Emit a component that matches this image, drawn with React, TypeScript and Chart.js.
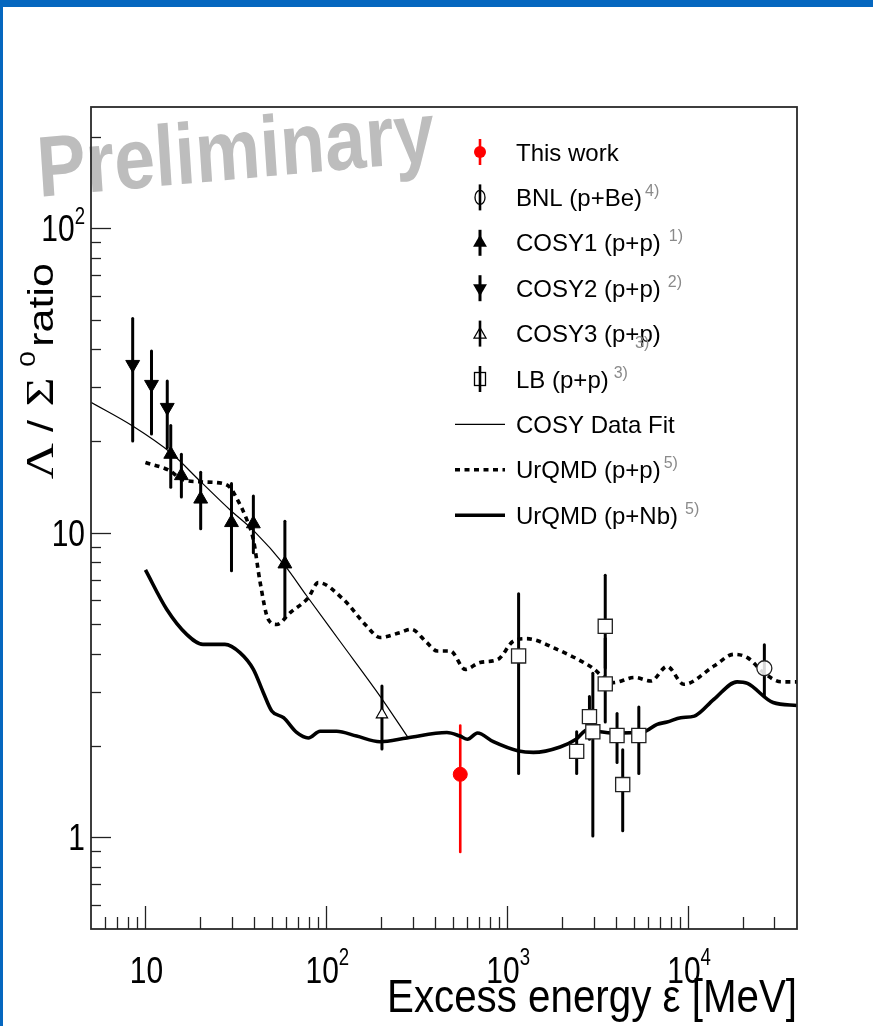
import React, { useEffect, useRef } from 'react';
import { Chart, registerables } from 'chart.js';

Chart.register(...registerables);

const WIDTH = 873;
const HEIGHT = 1026;

const SANS = "'Liberation Sans', Arial, Helvetica, sans-serif";
const SERIF = "'Liberation Serif', 'Times New Roman', serif";

// Axis ranges (log-log)
const X_MIN = 5;
const X_MAX = 40000;
const Y_MIN = 0.5;
const Y_MAX = 250;

// Tick labels
const xTickValues = [10, 100, 1000, 10000];
const xTickLabels: [string, string][] = [['10', ''], ['10', '2'], ['10', '3'], ['10', '4']];
const yTickValues = [1, 10, 100];
const yTickLabels: [string, string][] = [['1', ''], ['10', ''], ['10', '2']];

// This work
const thisWorkE = [550];
const thisWorkR = [1.61];
const thisWorkLo = [0.895];
const thisWorkHi = [2.33];

// BNL (p+Be)
const bnlE = [26400];
const bnlR = [3.59];
const bnlLo = [2.93];
const bnlHi = [4.29];

// COSY1 (p+p)
const cosy1E = [13.8, 15.8, 20.2, 29.9, 39.5, 59.0];
const cosy1R = [18.1, 15.4, 12.9, 10.8, 10.7, 7.9];
const cosy1Lo = [14.1, 13.1, 10.3, 7.5, 8.6, 5.3];
const cosy1Hi = [22.5, 18.1, 15.8, 14.5, 13.2, 10.9];

// COSY2 (p+p)
const cosy2E = [8.5, 10.8, 13.2];
const cosy2R = [35.7, 30.7, 25.8];
const cosy2Lo = [20.0, 21.1, 19.0];
const cosy2Hi = [50.5, 39.5, 31.5];

// COSY3 (p+p)
const cosy3E = [203];
const cosy3R = [2.53];
const cosy3Lo = [1.95];
const cosy3Hi = [3.14];

// LB (p+p)
const lbE = [1156, 2421, 2849, 2974, 3483, 3483, 4047, 4350, 5340];
const lbR = [3.94, 1.915, 2.49, 2.22, 4.93, 3.19, 2.16, 1.49, 2.16];
const lbLo = [1.62, 1.62, 2.1, 1.01, 3.6, 2.39, 1.76, 1.05, 1.62];
const lbHi = [6.31, 2.22, 2.9, 3.46, 7.25, 4.5, 2.55, 1.94, 2.68];

// COSY data fit
const fitE = [5, 8.5, 13.8, 20, 29.3, 40, 59, 78, 120, 198, 284];
const fitR = [26.8, 22.4, 18.3, 14.8, 11.9, 10.1, 7.8, 6.2, 4.37, 2.91, 2.12];

// UrQMD (p+p)
const urqmdPpE = [10, 13.6, 15.8, 20.2, 26.9, 29.3, 31.9, 36.2, 39.5, 43, 47.7, 53.1, 63.2, 79.5, 90.3,
  124, 167, 198, 255, 295, 359, 410, 485, 586, 707, 889, 1083, 1284, 1887, 2885, 3867, 5053, 6226,
  7658, 9470, 13900, 17940, 21300, 26200, 32700, 40000];
const urqmdPpR = [17.0, 16.0, 15.0, 14.7, 14.5, 14.1, 13.0, 11.1, 9.5, 6.9, 5.2, 5.0, 5.47, 6.12, 6.86,
  6.05, 4.94, 4.53, 4.7, 4.82, 4.36, 4.09, 4.09, 3.56, 3.75, 3.84, 4.41, 4.49, 4.14, 3.64, 3.22, 3.35, 3.26,
  3.64, 3.18, 3.65, 3.99, 3.89, 3.47, 3.24, 3.24];

// UrQMD (p+Nb)
const urqmdNbE = [10, 13.1, 16.9, 20.8, 27.5, 33.3, 39.5, 44.8, 49.9, 58, 68.5, 79.5, 92.4, 114, 147,
  198, 279, 464, 548, 603, 685, 838, 1156, 1395, 1961, 2403, 2790, 3270, 3867, 5670, 6740, 7658, 9110,
  10830, 13900, 18650, 21300, 29500, 40000];
const urqmdNbR = [7.55, 5.61, 4.64, 4.3, 4.3, 4.04, 3.56, 2.99, 2.6, 2.47, 2.21, 2.12, 2.23, 2.23, 2.15,
  2.06, 2.12, 2.21, 2.15, 2.1, 2.2, 2.06, 1.92, 1.9, 1.98, 2.1, 2.26, 2.22, 2.2, 2.22, 2.35, 2.39, 2.47,
  2.5, 2.84, 3.24, 3.2, 2.77, 2.71];

// Legend entries
const legendLabels = ['This work', 'BNL (p+Be)', 'COSY1 (p+p)', 'COSY2 (p+p)', 'COSY3 (p+p)', 'LB (p+p)',
  'COSY Data Fit', 'UrQMD (p+p)', 'UrQMD (p+Nb)'];
const legendRefs = ['', '4)', '1)', '2)', '3)', '3)', '', '5)', '5)'];

const pts = (xs: number[], ys: number[]) => xs.map((x, i) => ({ x, y: ys[i] }));

const errorSeries = [
  { e: cosy2E, lo: cosy2Lo, hi: cosy2Hi, color: '#000', width: 3 },
  { e: cosy1E, lo: cosy1Lo, hi: cosy1Hi, color: '#000', width: 3 },
  { e: cosy3E, lo: cosy3Lo, hi: cosy3Hi, color: '#000', width: 3 },
  { e: lbE, lo: lbLo, hi: lbHi, color: '#000', width: 3 },
  { e: bnlE, lo: bnlLo, hi: bnlHi, color: '#000', width: 3 },
  { e: thisWorkE, lo: thisWorkLo, hi: thisWorkHi, color: '#ff0000', width: 2.6 },
];

function drawScaled(ctx: CanvasRenderingContext2D, text: string, x: number, y: number, font: string,
  sx: number, align: CanvasTextAlign = 'left', color = '#000') {
  ctx.save();
  ctx.font = font;
  ctx.fillStyle = color;
  ctx.textAlign = align;
  ctx.textBaseline = 'alphabetic';
  ctx.translate(x, y);
  ctx.scale(sx, 1);
  ctx.fillText(text, 0, 0);
  ctx.restore();
}

function drawPowLabel(ctx: CanvasRenderingContext2D, base: string, exp: string, x: number, baseline: number,
  align: 'center' | 'right') {
  const sx = 0.81;
  const mainFont = `37px ${SANS}`;
  const supFont = `23px ${SANS}`;
  ctx.font = mainFont;
  const wb = ctx.measureText(base).width * sx;
  ctx.font = supFont;
  const we = exp ? ctx.measureText(exp).width * sx : 0;
  const total = wb + we;
  const start = align === 'center' ? x - total / 2 : x - total;
  drawScaled(ctx, base, start, baseline, mainFont, sx);
  if (exp) drawScaled(ctx, exp, start + wb, baseline - 17.5, supFont, sx);
}

const errorBarPlugin = {
  id: 'errorBars',
  beforeDatasetsDraw(chart: any) {
    const { ctx, chartArea: a } = chart;
    const xs = chart.scales.x;
    const ys = chart.scales.y;
    ctx.save();
    ctx.beginPath();
    ctx.rect(a.left, a.top, a.right - a.left, a.bottom - a.top);
    ctx.clip();
    ctx.lineCap = 'round';
    for (const s of errorSeries) {
      ctx.strokeStyle = s.color;
      ctx.lineWidth = s.width;
      s.e.forEach((e, i) => {
        const px = xs.getPixelForValue(e);
        ctx.beginPath();
        ctx.moveTo(px, ys.getPixelForValue(s.lo[i]));
        ctx.lineTo(px, ys.getPixelForValue(s.hi[i]));
        ctx.stroke();
      });
    }
    ctx.restore();
  },
};

const watermarkPlugin = {
  id: 'watermark',
  beforeDatasetsDraw(chart: any) {
    const ctx: CanvasRenderingContext2D = chart.ctx;
    ctx.save();
    ctx.translate(39, 197);
    ctx.scale(0.85, 1);
    ctx.rotate((-4.4 * Math.PI) / 180);
    ctx.font = `bold 86px ${SANS}`;
    ctx.fillStyle = '#bdbdbd';
    ctx.textAlign = 'left';
    ctx.fillText('Preliminary', 0, 0);
    ctx.restore();
  },
};

function legendBar(ctx: CanvasRenderingContext2D, x: number, y: number, color: string, w: number) {
  ctx.strokeStyle = color;
  ctx.lineWidth = w;
  ctx.lineCap = 'butt';
  ctx.beginPath();
  ctx.moveTo(x, y - 13);
  ctx.lineTo(x, y + 13);
  ctx.stroke();
}

function triangle(ctx: CanvasRenderingContext2D, x: number, y: number, r: number, down: boolean) {
  const s = down ? -1 : 1;
  ctx.beginPath();
  ctx.moveTo(x, y - s * r);
  ctx.lineTo(x + r * 0.866, y + s * r * 0.5);
  ctx.lineTo(x - r * 0.866, y + s * r * 0.5);
  ctx.closePath();
}

const frameLegendPlugin = {
  id: 'frameLegend',
  afterDraw(chart: any) {
    const ctx: CanvasRenderingContext2D = chart.ctx;
    const a = chart.chartArea;
    const xs = chart.scales.x;
    const ys = chart.scales.y;

    // slide border
    ctx.save();
    ctx.fillStyle = '#0567bf';
    ctx.fillRect(0, 0, WIDTH, 7);
    ctx.fillRect(0, 0, 3, HEIGHT);
    ctx.restore();

    // frame
    ctx.save();
    ctx.strokeStyle = '#2a2a2a';
    ctx.lineWidth = 1.8;
    ctx.strokeRect(a.left, a.top, a.right - a.left, a.bottom - a.top);

    // ticks
    ctx.lineWidth = 1.3;
    ctx.strokeStyle = '#222';
    for (let d = 1; d <= 10000; d *= 10) {
      for (let m = 1; m <= 9; m++) {
        const v = m * d;
        if (v <= X_MIN || v >= X_MAX) continue;
        const px = Math.round(xs.getPixelForValue(v)) + 0.5;
        const len = m === 1 ? 23 : 12;
        ctx.beginPath();
        ctx.moveTo(px, a.bottom);
        ctx.lineTo(px, a.bottom - len);
        ctx.stroke();
      }
    }
    for (let d = 0.1; d <= 100; d *= 10) {
      for (let m = 1; m <= 9; m++) {
        const v = m * d;
        if (v <= Y_MIN * 1.001 || v >= Y_MAX) continue;
        const py = Math.round(ys.getPixelForValue(v)) + 0.5;
        const len = m === 1 ? 20 : 10;
        ctx.beginPath();
        ctx.moveTo(a.left, py);
        ctx.lineTo(a.left + len, py);
        ctx.stroke();
      }
    }
    ctx.restore();

    // tick labels
    xTickValues.forEach((v, i) => {
      drawPowLabel(ctx, xTickLabels[i][0], xTickLabels[i][1], xs.getPixelForValue(v) + 1, 982.5, 'center');
    });
    yTickValues.forEach((v, i) => {
      drawPowLabel(ctx, yTickLabels[i][0], yTickLabels[i][1], 85, ys.getPixelForValue(v) + 13, 'right');
    });

    // x title
    ctx.save();
    const xTitle = 'Excess energy \u03b5 [MeV]';
    ctx.font = `47px ${SANS}`;
    const tw = ctx.measureText(xTitle).width;
    ctx.restore();
    drawScaled(ctx, xTitle, a.right, 1012, `47px ${SANS}`, 410 / tw, 'right');

    // y title, drawn rotated piece by piece
    const yPiece = (text: string, font: string, yc: number, bx: number) => {
      ctx.save();
      ctx.translate(bx, yc);
      ctx.scale(0.82, 1);
      ctx.rotate(-Math.PI / 2);
      ctx.font = font;
      ctx.fillStyle = '#000';
      ctx.textAlign = 'center';
      ctx.textBaseline = 'alphabetic';
      ctx.fillText(text, 0, 0);
      ctx.restore();
    };
    yPiece('\u039b', `50px ${SERIF}`, 461, 53);
    yPiece('/', `43px ${SANS}`, 426, 53);
    yPiece('\u03a3', `50px ${SERIF}`, 392, 53);
    yPiece('0', `28px ${SANS}`, 359, 35);
    yPiece('ratio', `43px ${SANS}`, 305, 53);

    // legend
    const mx = 480;
    const tx = 516;
    const rowY = (i: number) => 152 + i * 45.4;
    const mainFont = `24px ${SANS}`;
    const supFont = `16px ${SANS}`;
    const supGap = [0, 3, 8, 7, 0, 5, 0, 3, 7];
    legendLabels.forEach((label, i) => {
      const y = rowY(i);
      const base = y + 8.6;
      ctx.save();
      ctx.font = mainFont;
      ctx.fillStyle = '#000';
      ctx.textAlign = 'left';
      ctx.fillText(label, tx, base);
      const w = ctx.measureText(label).width;
      ctx.restore();
      const ref = legendRefs[i];
      if (ref) {
        if (i === 4) drawScaled(ctx, ref, tx + 119, base + 6, supFont, 1, 'left', '#8a8a8a');
        else drawScaled(ctx, ref, tx + w + supGap[i], base - 10, supFont, 1, 'left', '#8a8a8a');
      }

      ctx.save();
      switch (i) {
        case 0:
          legendBar(ctx, mx, y, '#ff0000', 2.6);
          ctx.fillStyle = '#ff0000';
          ctx.beginPath();
          ctx.arc(mx, y, 6, 0, Math.PI * 2);
          ctx.fill();
          break;
        case 1:
          legendBar(ctx, mx, y, '#000', 2.6);
          ctx.strokeStyle = '#000';
          ctx.lineWidth = 1.3;
          ctx.beginPath();
          ctx.ellipse(mx, y, 5, 7, 0, 0, Math.PI * 2);
          ctx.stroke();
          break;
        case 2:
          legendBar(ctx, mx, y, '#000', 3);
          ctx.fillStyle = '#000';
          triangle(ctx, mx, y, 8, false);
          ctx.fill();
          break;
        case 3:
          legendBar(ctx, mx, y, '#000', 3);
          ctx.fillStyle = '#000';
          triangle(ctx, mx, y, 8, true);
          ctx.fill();
          break;
        case 4:
          legendBar(ctx, mx, y, '#000', 2.6);
          ctx.strokeStyle = '#000';
          ctx.lineWidth = 1.2;
          triangle(ctx, mx, y + 1, 7, false);
          ctx.stroke();
          break;
        case 5:
          legendBar(ctx, mx, y, '#000', 2.6);
          ctx.strokeStyle = '#000';
          ctx.lineWidth = 1.3;
          ctx.strokeRect(mx - 5.5, y - 6.5, 11, 13);
          break;
        default: {
          ctx.strokeStyle = '#000';
          ctx.lineCap = 'butt';
          ctx.lineWidth = i === 6 ? 1.2 : 3.6;
          if (i === 7) ctx.setLineDash([5, 4.5]);
          ctx.beginPath();
          ctx.moveTo(455, y);
          ctx.lineTo(505, y);
          ctx.stroke();
        }
      }
      ctx.restore();
    });
  },
};

export default function App() {
  const canvasRef = useRef<HTMLCanvasElement>(null);

  useEffect(() => {
    const canvas = canvasRef.current;
    if (!canvas) return;
    const chart = new Chart(canvas, {
      type: 'scatter',
      data: {
        datasets: [
          {
            label: 'COSY Data Fit',
            data: pts(fitE, fitR),
            showLine: true,
            borderColor: '#000',
            borderWidth: 1.2,
            pointRadius: 0,
            cubicInterpolationMode: 'monotone',
            order: 10,
          },
          {
            label: 'UrQMD (p+p)',
            data: pts(urqmdPpE, urqmdPpR),
            showLine: true,
            borderColor: '#000',
            borderWidth: 3.6,
            borderDash: [5, 4.5],
            borderCapStyle: 'butt',
            pointRadius: 0,
            cubicInterpolationMode: 'monotone',
            order: 9,
          },
          {
            label: 'UrQMD (p+Nb)',
            data: pts(urqmdNbE, urqmdNbR),
            showLine: true,
            borderColor: '#000',
            borderWidth: 3.6,
            borderJoinStyle: 'round',
            pointRadius: 0,
            cubicInterpolationMode: 'monotone',
            order: 8,
          },
          {
            label: 'COSY2 (p+p)',
            data: pts(cosy2E, cosy2R),
            pointStyle: 'triangle',
            rotation: 180,
            pointRadius: 8,
            backgroundColor: '#000',
            borderColor: '#000',
            borderWidth: 1,
            order: 5,
          },
          {
            label: 'COSY1 (p+p)',
            data: pts(cosy1E, cosy1R),
            pointStyle: 'triangle',
            pointRadius: 8,
            backgroundColor: '#000',
            borderColor: '#000',
            borderWidth: 1,
            order: 5,
          },
          {
            label: 'COSY3 (p+p)',
            data: pts(cosy3E, cosy3R),
            pointStyle: 'triangle',
            pointRadius: 6.5,
            backgroundColor: '#fff',
            borderColor: '#000',
            borderWidth: 1.2,
            order: 5,
          },
          {
            label: 'LB (p+p)',
            data: pts(lbE, lbR),
            pointStyle: 'rect',
            pointRadius: 10,
            backgroundColor: '#fff',
            borderColor: '#222',
            borderWidth: 1.3,
            order: 4,
          },
          {
            label: 'BNL (p+Be)',
            data: pts(bnlE, bnlR),
            pointStyle: 'circle',
            pointRadius: 7.5,
            backgroundColor: 'rgba(255,255,255,0.85)',
            borderColor: '#222',
            borderWidth: 1.3,
            order: 4,
          },
          {
            label: 'This work',
            data: pts(thisWorkE, thisWorkR),
            pointStyle: 'circle',
            pointRadius: 7,
            backgroundColor: '#ff0000',
            borderColor: '#ff0000',
            borderWidth: 1,
            order: 1,
          },
        ],
      },
      options: {
        responsive: false,
        maintainAspectRatio: false,
        devicePixelRatio: 1,
        animation: false,
        layout: { padding: { left: 91, top: 107, right: WIDTH - 797, bottom: HEIGHT - 929 } },
        scales: {
          x: { type: 'logarithmic', min: X_MIN, max: X_MAX, display: false },
          y: { type: 'logarithmic', min: Y_MIN, max: Y_MAX, display: false },
        },
        plugins: {
          legend: { display: false },
          tooltip: { enabled: false },
        },
        events: [],
      },
      plugins: [watermarkPlugin, errorBarPlugin, frameLegendPlugin],
    } as any);
    return () => chart.destroy();
  }, []);

  return (
    <div style={{ position: 'absolute', left: 0, top: 0, width: WIDTH, height: HEIGHT, background: '#fff' }}>
      <canvas ref={canvasRef} width={WIDTH} height={HEIGHT} style={{ display: 'block', width: WIDTH, height: HEIGHT }} />
    </div>
  );
}
